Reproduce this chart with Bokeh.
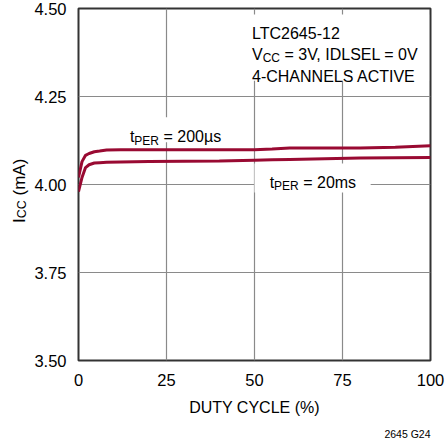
from bokeh.plotting import figure
from bokeh.layouts import row
from bokeh.models import Label, BoxAnnotation, FixedTicker, ColumnDataSource, Title, Div
from bokeh.embed import file_html
from bokeh.resources import INLINE

# ---- data ----
duty = [0, 1, 2, 3, 4.5, 6, 8, 12, 20, 30, 40, 50, 55, 60, 70, 80, 90, 100]
icc_200us = [4.020, 4.065, 4.083, 4.088, 4.093, 4.095, 4.098, 4.099, 4.099, 4.099,
             4.099, 4.099, 4.101, 4.104, 4.104, 4.104, 4.106, 4.110]
icc_20ms = [3.980, 4.020, 4.048, 4.056, 4.061, 4.062, 4.063, 4.064, 4.065, 4.066,
            4.067, 4.069, 4.070, 4.071, 4.073, 4.075, 4.076, 4.077]
x_ticks = [0, 25, 50, 75, 100]
y_ticks = [3.50, 3.75, 4.00, 4.25, 4.50]
y_tick_labels = ["3.50", "3.75", "4.00", "4.25", "4.50"]

FONT = "Liberation Sans"
LINE_COLOR = "#990A32"
GRID_COLOR = "#8a8a8a"
FRAME_COLOR = "#333333"
NB = "\u00a0"

# approximate advance widths (em) of Liberation Sans
_W = {'t': .278, 'P': .667, 'E': .667, 'R': .722, ' ': .278, NB: .278, '=': .584,
      'µ': .576, 's': .5, 'm': .833, 'C': .722, 'I': .278, '(': .333, ')': .333,
      'A': .667, 'V': .667, ',': .278, 'D': .722, 'L': .556, 'S': .667}


def text_width(txt, size):
    return sum(_W.get(c, .556) for c in txt) * size


TITLE_W = 30
H = 446

p = figure(width=446 - TITLE_W, height=H, x_range=(0, 100), y_range=(3.5, 4.5),
           output_backend="svg", toolbar_location=None,
           min_border_left=78 - TITLE_W, min_border_right=16, min_border_top=8,
           min_border_bottom=86)
p.background_fill_color = "white"
p.border_fill_color = "white"
p.outline_line_color = FRAME_COLOR
p.outline_line_width = 2

p.xaxis.ticker = FixedTicker(ticks=x_ticks)
p.yaxis.ticker = FixedTicker(ticks=y_ticks)
p.yaxis.major_label_overrides = {t: l for t, l in zip(y_ticks, y_tick_labels)}
for ax in (p.xaxis, p.yaxis):
    ax.axis_line_color = None
    ax.major_tick_line_color = None
    ax.minor_tick_line_color = None
    ax.major_label_text_font = FONT
    ax.major_label_text_font_size = "16.5px"
    ax.major_label_text_color = "black"
p.xaxis.major_label_standoff = 7
p.yaxis.major_label_standoff = 6
p.xaxis.axis_label = "DUTY CYCLE (%)"
p.xaxis.axis_label_text_font = FONT
p.xaxis.axis_label_text_font_size = "16px"
p.xaxis.axis_label_text_font_style = "normal"
p.xaxis.axis_label_text_color = "black"
p.xaxis.axis_label_standoff = 10

p.xgrid.grid_line_color = GRID_COLOR
p.ygrid.grid_line_color = GRID_COLOR
p.xgrid.grid_line_width = 1.2
p.ygrid.grid_line_width = 1.2

src = ColumnDataSource(dict(duty=duty, a=icc_200us, b=icc_20ms))
p.line("duty", "a", source=src, line_color=LINE_COLOR, line_width=3)
p.line("duty", "b", source=src, line_color=LINE_COLOR, line_width=3)

# white boxes hiding grid behind annotation text
for l, r, b, t in [(47.4, 99.6, 4.295, 4.483), (13.4, 43.2, 4.120, 4.191),
                   (50.0, 83.0, 3.977, 4.060)]:
    p.add_layout(BoxAnnotation(left=l, right=r, bottom=b, top=t,
                               fill_color="white", fill_alpha=1.0,
                               line_color=None, level="underlay"))


def rich(fig, x, y, parts):
    off = 0.0
    for txt, size, dy in parts:
        fig.add_layout(Label(x=x, y=y, text=txt, text_font=FONT,
                             text_font_size=f"{size}px", text_baseline="alphabetic",
                             text_align="left", x_offset=off, y_offset=-dy,
                             text_color="black"))
        off += text_width(txt, size)


MAIN, SUB = 16, 12
rich(p, 49.3, 4.428, [("LTC2645-12", MAIN, 0)])
rich(p, 49.3, 4.368, [("V", MAIN, 0), ("CC", SUB, 3), (NB + "= 3V, IDLSEL = 0V", MAIN, 0)])
rich(p, 49.3, 4.307, [("4-CHANNELS ACTIVE", MAIN, 0)])
rich(p, 14.6, 4.135, [("t", MAIN, 0), ("PER", SUB, 4), (NB + "= 200µs", MAIN, 0)])
rich(p, 54.3, 4.006, [("t", MAIN, 0), ("PER", SUB, 4), (NB + "= 20ms", MAIN, 0)])

# figure id note below the plot
p.add_layout(Title(text="2645 G24", align="right", text_font=FONT,
                   text_font_size="10.5px", text_font_style="normal",
                   text_color="black", standoff=14, offset=0), "below")

# rotated y-axis title  I_CC (mA)  in a narrow strip on the left
y_title_main, y_title_sub, y_title_unit = "I", "CC", "(mA)"
y_html = (
    '<span style="position:absolute;left:11px;top:223px;transform:rotate(-90deg);'
    'transform-origin:0 0;white-space:nowrap;font-family:\'Liberation Sans\';'
    'font-size:17px;line-height:1;color:black;">'
    f'{y_title_main}<span style="font-size:12.5px;vertical-align:-1px;">{y_title_sub}</span>'
    f' {y_title_unit}</span>'
)
ytitle = Div(text=y_html, width=TITLE_W, height=H,
             styles={"position": "relative", "overflow": "visible", "margin": "0",
                     "padding": "0"})

layout = row(ytitle, p, spacing=0)
open("out.html", "w").write(file_html(layout, INLINE))
